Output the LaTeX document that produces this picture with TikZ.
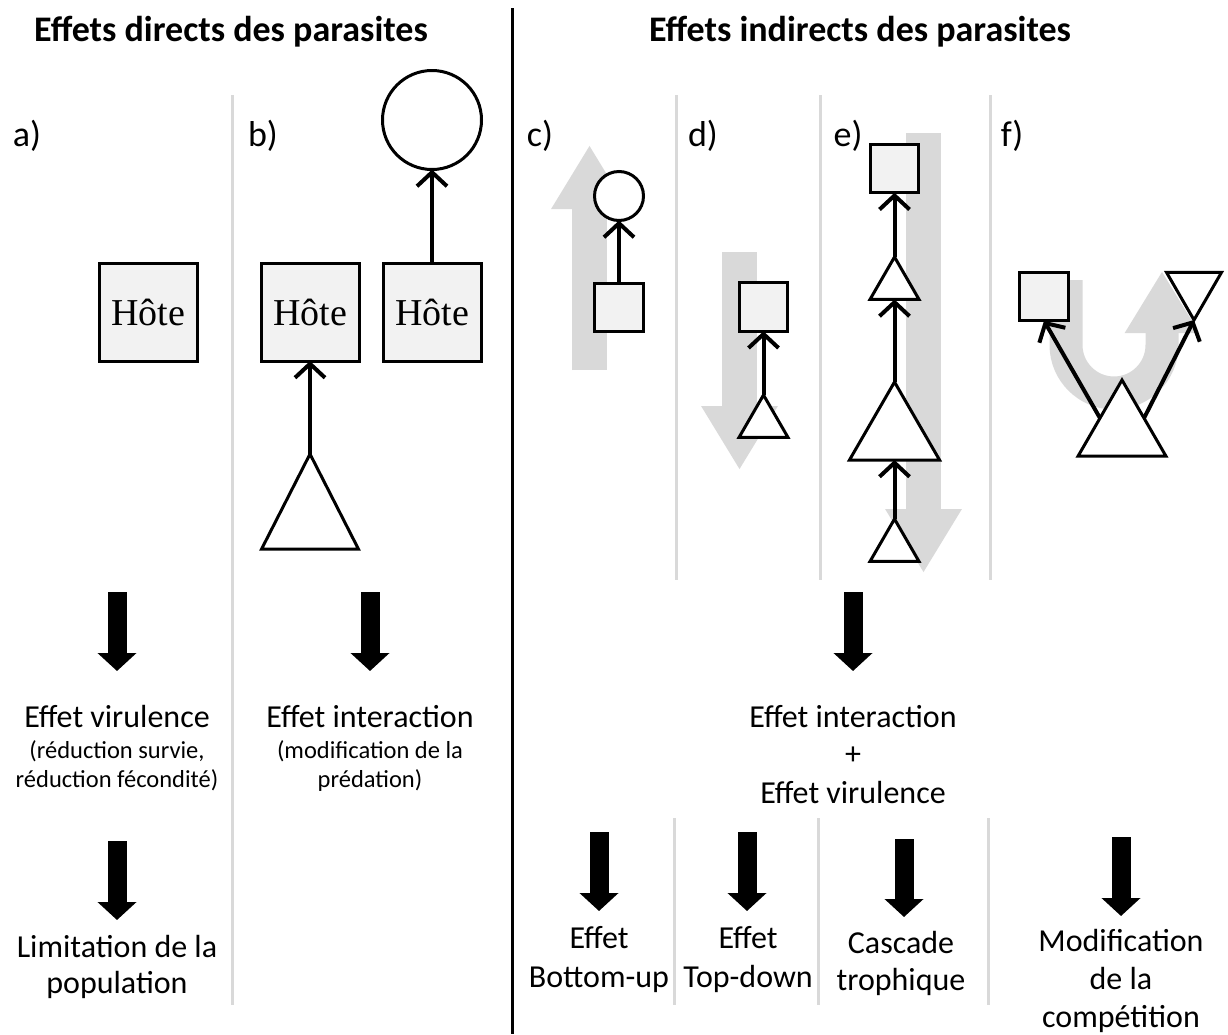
\documentclass[tikz,border=0pt]{standalone}
\usepackage{fontspec}
\setmainfont{Carlito}
\newfontfamily\hotefont{Liberation Serif}
\usetikzlibrary{arrows.meta,shapes.geometric}
\definecolor{garrowcol}{HTML}{D9D9D9}
\definecolor{sepcol}{HTML}{D9D9D9}
\definecolor{boxfill}{HTML}{F2F2F2}
\begin{document}
\begin{tikzpicture}[x=1pt,y=-1pt,
  sq/.style={draw=black, line width=3pt, fill=boxfill, minimum size=#1, inner sep=0pt, outer sep=0pt},
  circ/.style={circle, draw=black, line width=3pt, fill=white, minimum size=#1, inner sep=0pt, outer sep=0pt},
  tri/.style={regular polygon, regular polygon sides=3, draw=black, line width=3pt, fill=white, minimum size=#1, inner sep=0pt, outer sep=0pt},
  link/.style={line width=4pt, -{Straight Barb[length=14pt,width=30pt]}},
  bigarrow/.style={line width=19pt, -{Triangle[length=18pt,width=38pt]}},
  garrow/.style={draw=garrowcol, line width=35pt, -{Triangle[length=64pt,width=72pt]}},
  sepline/.style={draw=sepcol, line width=3pt},
  titletext/.style={font=\bfseries\fontsize{36}{43}\selectfont, anchor=base},
  lab/.style={font=\fontsize{36}{43}\selectfont, anchor=base},
  txt/.style={font=\fontsize{32}{38}\selectfont, anchor=base},
  smalltxt/.style={font=\fontsize{24.5}{29}\selectfont, anchor=base},
  hote/.style={font=\hotefont\fontsize{38}{45}\selectfont},
]
\useasboundingbox (0,0) rectangle (1228,1034);

% titles and main divider
\node[titletext] (t1) at (231,41) {Effets directs des parasites};
\node[titletext] (t2) at (860,41) {Effets indirects des parasites};
\draw[line width=3pt] (512,8) -- (512,1034);

% separators
\draw[sepline] (232,95) -- (232,1005);
\draw[sepline] (676,95) -- (676,580);
\draw[sepline] (820,95) -- (820,580);
\draw[sepline] (990,95) -- (990,580);
\draw[sepline] (674,818) -- (674,1005);
\draw[sepline] (818,818) -- (818,1005);
\draw[sepline] (988,818) -- (988,1005);

% panel labels
\node[lab] (la) at (27,146) {a)};
\node[lab] (lb) at (263,146) {b)};
\node[lab] (lc) at (540,146) {c)};
\node[lab] (ld) at (703,146) {d)};
\node[lab] (le) at (848,146) {e)};
\node[lab] (lf) at (1012,146) {f)};

% gray arrows
\draw[garrow] (589.5,370) -- (589.5,145);
\draw[garrow] (739.5,252) -- (739.5,470);
\draw[garrow] (923.5,133) -- (923.5,573);
\draw[draw=garrowcol, line width=33pt, -{Triangle[length=62pt,width=70pt]}]
  (1066,280) -- (1066,345) arc[start angle=180, end angle=0, radius=48] -- (1162,271);

% panel a
\node[sq=98, hote] (hA) at (148,312) {Hôte};

% panel b
\node[sq=98, hote] (hB1) at (310,312) {Hôte};
\node[sq=98, hote] (hB2) at (432,312) {Hôte};
\node[circ=99] (predB) at (432,120) {};
\node[isosceles triangle, shape border rotate=90, isosceles triangle apex angle=54,
      minimum width=95, minimum height=95, draw=black, line width=3pt, fill=white,
      inner sep=0pt, outer sep=0pt, anchor=lower side] (parB) at (310,549) {};

% panel c
\node[sq=48.5] (sqC) at (619,307.5) {};
\node[circ=49] (cirC) at (619,196) {};

% panel d
\node[sq=48.5] (sqD) at (763.5,307) {};
\node[tri=56.6, anchor=corner 1] (triD) at (763.5,395) {};

% panel e
\node[sq=48.5] (sqE) at (894.5,168.5) {};
\node[tri=56.6, anchor=corner 1] (e1) at (894.5,257) {};
\node[tri=104, anchor=corner 1] (eBig) at (894.5,382) {};
\node[tri=56.6, anchor=corner 1] (e2) at (894.5,519) {};

% panel f
\node[sq=48.5] (sqF) at (1044,296.5) {};
\node[tri=101.6, anchor=corner 1] (fBig) at (1122,380) {};
\node[tri=63.5, shape border rotate=180, anchor=corner 1] (fInv) at (1194,320) {};

% connectors
\draw[link] (parB.apex) -- (hB1.south);
\draw[link] (hB2.north) -- (predB.south);
\draw[link] (sqC.north) -- (cirC.south);
\draw[link] (triD.corner 1) -- (sqD.south);
\draw[link] (e1.corner 1) -- (sqE.south);
\draw[link] (eBig.corner 1) -- (e1.side 2);
\draw[link] (e2.corner 1) -- (eBig.side 2);
\draw[link] (fBig.side 1) -- (sqF.south);
\draw[link] (fBig.side 3) -- (fInv.corner 1);

% big black arrows
\draw[bigarrow] (117,592) -- (117,671);
\draw[bigarrow] (117,841) -- (117,920);
\draw[bigarrow] (370,592) -- (370,671);
\draw[bigarrow] (853,592) -- (853,671);
\draw[bigarrow] (599,832) -- (599,911);
\draw[bigarrow] (747,832) -- (747,911);
\draw[bigarrow] (904,839) -- (904,917);
\draw[bigarrow] (1121,837) -- (1121,916);

% texts
\node[txt] (va) at (117,727) {Effet virulence};
\node[smalltxt] (va1) at (117,758) {(réduction survie,};
\node[smalltxt] (va2) at (117,787) {réduction fécondité)};
\node[txt] (lim1) at (117,957) {Limitation de la};
\node[txt] (lim2) at (117,993) {population};
\node[txt] (ib) at (370,727) {Effet interaction};
\node[smalltxt] (ib1) at (370,758) {(modification de la};
\node[smalltxt] (ib2) at (370,787) {prédation)};
\node[txt] (ic) at (853,727) {Effet interaction};
\node[txt] (plus) at (853,764) {+};
\node[txt] (vc) at (853,803) {Effet virulence};
\node[txt] (bu1) at (599,948) {Effet};
\node[txt] (bu2) at (599,987) {Bottom-up};
\node[txt] (td1) at (748,948) {Effet};
\node[txt] (td2) at (748,987) {Top-down};
\node[txt] (ct1) at (901,953) {Cascade};
\node[txt] (ct2) at (901,990) {trophique};
\node[txt] (mc1) at (1121,951) {Modification};
\node[txt] (mc2) at (1121,989) {de la};
\node[txt] (mc3) at (1121,1027) {compétition};
\end{tikzpicture}
\end{document}
